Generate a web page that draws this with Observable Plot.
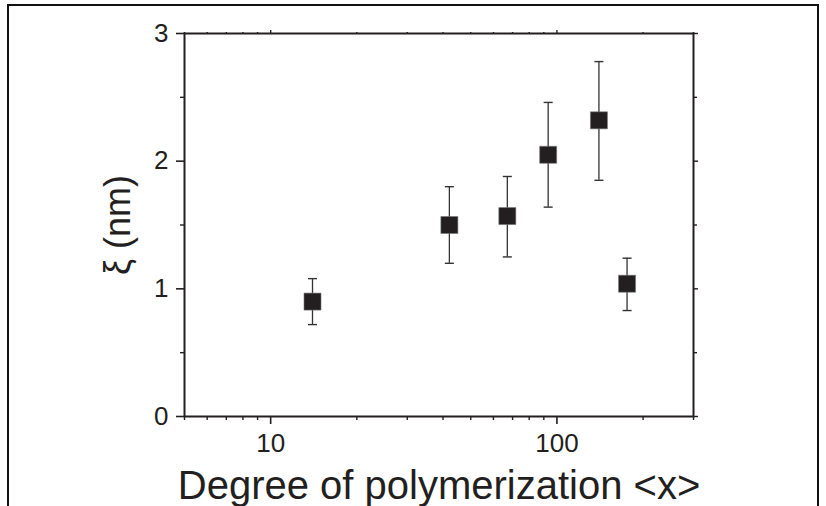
<!DOCTYPE html>
<html>
<head>
<meta charset="utf-8">
<script src="https://cdn.jsdelivr.net/npm/d3@7"></script>
<script src="https://cdn.jsdelivr.net/npm/@observablehq/plot@0.6"></script>
<style>
  html, body { margin: 0; padding: 0; background: #fff; overflow: hidden; }
  #wrap { position: relative; width: 826px; height: 506px; }
  #border { position: absolute; left: 7px; top: 4px; width: 812px; height: 520px; border: 2px solid #111; box-sizing: border-box; pointer-events: none; }
  svg g[aria-label$="tick label"] { font-size: 26px; }
</style>
</head>
<body>
<div id="wrap"><div id="border"></div></div>
<script>
// Data
const dp = [14.0, 42.1, 67.1, 93.2, 140.2, 175.8];      // degree of polymerization <x>
const xi = [0.90, 1.50, 1.57, 2.05, 2.32, 1.04];         // ξ (nm)
const xiLow = [0.72, 1.20, 1.25, 1.64, 1.85, 0.83];      // lower error bound
const xiHigh = [1.08, 1.80, 1.88, 2.46, 2.78, 1.24];     // upper error bound

const xMajor = [10, 100];
const xMinor = [5, 6, 7, 8, 9, 20, 30, 40, 50, 60, 70, 80, 90, 200, 300];
const yMajor = [0, 1, 2, 3];
const yMinor = [0.5, 1.5, 2.5];

const xLabel = "Degree of polymerization <x>";
const yLabel = "ξ (nm)";

const data = dp.map((d, i) => ({x: d, y: xi[i], lo: xiLow[i], hi: xiHigh[i]}));

const capSymbol = {
  draw(ctx, size) {
    const w = Math.sqrt(size);
    ctx.moveTo(-w / 2, 0);
    ctx.lineTo(w / 2, 0);
  }
};

const ink = "#231f20";
const blank = () => "";

const chart = Plot.plot({
  width: 826,
  height: 506,
  marginLeft: 184,
  marginRight: 133,
  marginTop: 33,
  marginBottom: 90,
  style: {fontFamily: "'Liberation Sans', Arial, sans-serif", background: "transparent", color: ink},
  x: {type: "log", domain: [5, 300]},
  y: {domain: [0, 3]},
  marks: [
    // bottom axis
    Plot.axisX(xMajor, {anchor: "bottom", tickSize: 8, tickPadding: 9, fontSize: 26, strokeWidth: 1.6, label: null, tickFormat: d => String(d)}),
    Plot.axisX(xMinor, {anchor: "bottom", tickSize: 4, strokeWidth: 1.4, label: null, tickFormat: blank}),
    // top axis (mirror)
    Plot.axisX(xMajor, {anchor: "top", tickSize: 4, strokeWidth: 1.4, label: null, tickFormat: blank}),
    Plot.axisX(xMinor, {anchor: "top", tickSize: 2, strokeWidth: 1.4, label: null, tickFormat: blank}),
    // left axis
    Plot.axisY(yMajor, {anchor: "left", tickSize: 8, tickPadding: 8, fontSize: 26, strokeWidth: 1.6, label: null, tickFormat: d => String(d)}),
    Plot.axisY(yMinor, {anchor: "left", tickSize: 4, strokeWidth: 1.4, label: null, tickFormat: blank}),
    // right axis (mirror)
    Plot.axisY(yMajor, {anchor: "right", tickSize: 4, strokeWidth: 1.4, label: null, tickFormat: blank}),
    Plot.axisY(yMinor, {anchor: "right", tickSize: 3, strokeWidth: 1.4, label: null, tickFormat: blank}),
    Plot.frame({stroke: ink, strokeWidth: 2}),
    // error bars
    Plot.ruleX(data, {x: "x", y1: "lo", y2: "hi", stroke: "#333", strokeWidth: 1.3}),
    Plot.dot(data, {x: "x", y: "hi", symbol: capSymbol, r: 5.1, stroke: "#333", strokeWidth: 1.4, fill: "none"}),
    Plot.dot(data, {x: "x", y: "lo", symbol: capSymbol, r: 5.1, stroke: "#333", strokeWidth: 1.4, fill: "none"}),
    // square markers
    Plot.dot(data, {x: "x", y: "y", symbol: "square", r: 9.6, fill: ink, stroke: "#777", strokeWidth: 0.6}),
    // axis titles
    Plot.text([xLabel], {frameAnchor: "bottom", textAnchor: "middle", lineAnchor: "bottom", dy: 82, fontSize: 40, fill: ink}),
    Plot.text([yLabel], {frameAnchor: "left", textAnchor: "middle", lineAnchor: "middle", rotate: -90, dx: -66, fontSize: 36, fill: ink})
  ]
});

document.getElementById("wrap").appendChild(chart);
chart.style.position = "absolute";
chart.style.left = "0";
chart.style.top = "0";
</script>
</body>
</html>
